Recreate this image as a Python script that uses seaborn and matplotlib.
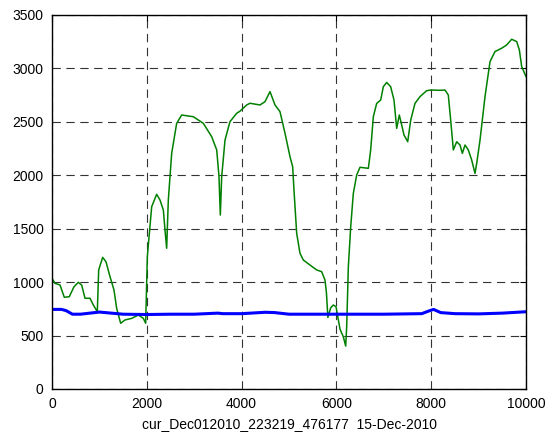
import matplotlib
matplotlib.use("Agg")
import matplotlib.pyplot as plt
import seaborn as sns
import pandas as pd

green_x = [0, 63, 169, 260, 365, 464, 555, 626, 696, 802, 872, 956, 985, 1069, 1139,
           1224, 1308, 1364, 1449, 1540, 1681, 1821, 1927, 1976, 2011, 2103, 2208, 2278,
           2349, 2384, 2419, 2454, 2525, 2630, 2736, 2982, 3193, 3369, 3475, 3523, 3551,
           3580, 3650, 3755, 3896, 3966, 4107, 4177, 4388, 4494, 4599, 4705, 4810, 4916,
           5021, 5077, 5105, 5162, 5232, 5302, 5443, 5584, 5689, 5759, 5790, 5820, 5880,
           5935, 5992, 6076, 6146, 6196, 6217, 6252, 6302, 6357, 6428, 6498, 6674, 6723,
           6779, 6850, 6934, 6990, 7061, 7145, 7215, 7272, 7327, 7378, 7426, 7504, 7568,
           7658, 7764, 7905, 8000, 8186, 8291, 8361, 8411, 8467, 8538, 8608, 8657, 8713,
           8783, 8854, 8924, 8960, 9030, 9135, 9241, 9346, 9487, 9593, 9698, 9804, 9860,
           9909, 10000]
green_y = [1036, 989, 973, 858, 864, 957, 998, 973, 849, 849, 786, 724, 1114, 1232, 1191,
           1051, 926, 755, 615, 646, 661, 692, 661, 615, 1238, 1706, 1822, 1769,
           1675, 1488, 1317, 1769, 2206, 2486, 2564, 2548, 2486, 2361, 2237, 1987, 1628,
           1987, 2330, 2502, 2580, 2600, 2658, 2674, 2658, 2689, 2783, 2658, 2595, 2393,
           2174, 2081, 1862, 1457, 1270, 1207, 1160, 1114, 1098, 1020, 900, 670, 760,
           786, 770, 560, 489, 402, 583, 1144, 1519, 1830, 2003, 2075, 2065, 2237,
           2548, 2673, 2704, 2829, 2869, 2829, 2704, 2439, 2564, 2470, 2377, 2314, 2517,
           2673, 2736, 2792, 2798, 2795, 2798, 2751, 2517, 2237, 2314, 2283, 2205, 2283,
           2237, 2143, 2018, 2111, 2330, 2736, 3064, 3158, 3189, 3220, 3273, 3251, 3173,
           3017, 2923]

blue_x = [0, 200, 300, 430, 600, 800, 1000, 1200, 1500, 2000, 2500, 3000, 3500, 3600,
          4000, 4500, 4700, 5000, 6000, 7000, 7800, 7950, 8050, 8200, 8500, 9000, 9500, 10000]
blue_y = [745, 745, 733, 700, 700, 710, 720, 712, 700, 697, 700, 700, 710, 705,
          705, 718, 715, 700, 700, 700, 705, 730, 745, 715, 705, 703, 710, 723]

x_ticks = [0, 2000, 4000, 6000, 8000, 10000]
y_ticks = [0, 500, 1000, 1500, 2000, 2500, 3000, 3500]
x_label = "cur_Dec012010_223219_476177  15-Dec-2010"

sns.set_theme(style="white")
plt.rcParams['font.family'] = ['Liberation Sans', 'DejaVu Sans']

fig = plt.figure(figsize=(5.48, 4.38), dpi=100)
ax = fig.add_axes([52/548, 49/438, 474/548, 374/438])

green = pd.DataFrame({"x": green_x, "y": green_y})
blue = pd.DataFrame({"x": blue_x, "y": blue_y})
sns.lineplot(data=green, x="x", y="y", ax=ax, color="#008000", linewidth=1.1,
             estimator=None, sort=False)
sns.lineplot(data=blue, x="x", y="y", ax=ax, color="#0000ff", linewidth=2.2,
             estimator=None, sort=False)

ax.set_xlim(0, 10000)
ax.set_ylim(0, 3500)
ax.set_xticks(x_ticks)
ax.set_yticks(y_ticks)
ax.set_xticklabels([str(t) for t in x_ticks])
ax.set_yticklabels([str(t) for t in y_ticks])
ax.set_xlabel(x_label, fontsize=10, labelpad=4, color="black")
ax.set_ylabel("")
ax.grid(True, color="0.2", linestyle=(0, (7.5, 5)), linewidth=0.8)
ax.tick_params(direction="in", length=4, width=0.8, labelsize=10, colors="black",
               top=True, right=True, pad=6)
for s in ax.spines.values():
    s.set_color("black")
    s.set_linewidth(1.0)
    s.set_visible(True)

fig.savefig("out.png", dpi=100, facecolor="white")
